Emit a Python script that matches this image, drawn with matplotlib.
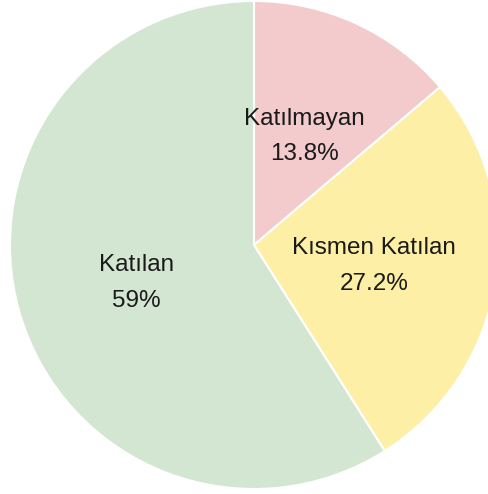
import matplotlib
matplotlib.use("Agg")
import matplotlib.pyplot as plt
import numpy as np

labels = ["Katılmayan", "Kısmen Katılan", "Katılan"]
values = [13.8, 27.2, 59.0]
pct_labels = ["13.8%", "27.2%", "59%"]
colors = ["#f3cbcc", "#fdf0a6", "#d3e6d1"]

W, H = 489, 494
fig = plt.figure(figsize=(W / 100, H / 100), dpi=100)
cx, cy, r = 254, 245, 244
ax = fig.add_axes([(cx - r) / W, (H - cy - r) / H, 2 * r / W, 2 * r / H])
ax.pie(values, colors=colors, startangle=90, counterclock=False,
       wedgeprops=dict(edgecolor="white", linewidth=1.5), radius=1.0)
ax.set_xlim(-1, 1)
ax.set_ylim(-1, 1)
ax.set_aspect("equal")
ax.axis("off")

# label positions (polar, in radius units / degrees)
label_pos = [(0.49, 65), (0.50, -10), (0.505, 198)]
for (rr, ang), lab, pct in zip(label_pos, labels, pct_labels):
    x = rr * np.cos(np.radians(ang))
    y = rr * np.sin(np.radians(ang))
    ax.text(x, y, f"{lab}\n{pct}", ha="center", va="center",
            fontsize=17.5, family="Liberation Sans", color="#1a1a1a",
            linespacing=1.8)

fig.savefig("out.png", dpi=100, facecolor="white")
